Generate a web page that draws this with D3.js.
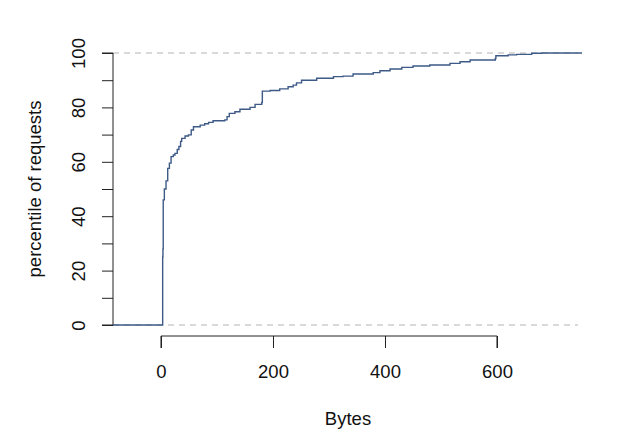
<!DOCTYPE html>
<html>
<head>
<meta charset="utf-8">
<script src="https://cdn.jsdelivr.net/npm/d3@7"></script>
<style>
  html, body { margin: 0; padding: 0; background: #fff; }
  text { font-family: "Liberation Sans", Arial, Helvetica, sans-serif; }
</style>
</head>
<body>
<svg id="chart" width="630" height="442"></svg>
<script>
// ECDF knots: bytes and cumulative percentile of requests
const bytes = [3, 3.5, 4, 6, 9, 12, 15, 18, 22, 25, 29, 32, 35, 37, 43, 49, 54, 58, 70, 78, 85, 93,
  114, 118, 122, 132, 141, 159, 168, 180, 181, 195, 212, 227, 236, 242, 251, 278, 308, 325, 343,
  379, 391, 409, 430, 450, 480, 516, 534, 552, 597, 598, 620, 635, 662, 680];
const percentile = [25, 28, 46, 50, 53, 57.6, 59.5, 61.9, 62.5, 63.1, 64.5, 65.6, 67.5, 68.6, 69.5, 69.9,
  71.7, 72.9, 73.5, 74, 74.5, 75.1, 75.4, 76.6, 77.8, 78.4, 79.3, 80, 81.1, 81.8, 86, 86.2, 86.8,
  87.6, 88.2, 89, 90, 90.7, 91.3, 91.5, 92.3, 92.8, 93.5, 94.1, 94.7, 95.2, 95.6, 96.2, 96.8, 97.4,
  98, 99, 99.3, 99.5, 99.9, 100];
const xTicks = [0, 200, 400, 600];
const yTicks = [0, 10, 20, 30, 40, 50, 60, 70, 80, 90, 100];
const yLabels = [0, 20, 40, 60, 80, 100];
const refLines = [0, 100];
const xTitle = "Bytes";
const yTitle = "percentile of requests";

const svg = d3.select("#chart");
const x = d3.scaleLinear().domain([-85.7, 751.8]).range([113, 582]);
const y = d3.scaleLinear().domain([0, 100]).range([325, 53]);
const plotBottom = 336;

// Reference dashed lines
svg.selectAll("line.ref").data(refLines).enter().append("line")
  .attr("class", "ref")
  .attr("x1", x.range()[0]).attr("x2", 578)
  .attr("y1", d => y(d)).attr("y2", d => y(d))
  .attr("stroke", "#b3b3b3").attr("stroke-width", 1.2)
  .attr("stroke-dasharray", "6,5");

// ECDF step line
const pts = [[x.domain()[0], 0]].concat(bytes.map((b, i) => [b, percentile[i]]))
  .concat([[x.domain()[1], percentile[percentile.length - 1]]]);
const line = d3.line().x(d => x(d[0])).y(d => y(d[1])).curve(d3.curveStepAfter);
svg.append("path").datum(pts)
  .attr("d", line)
  .attr("fill", "none")
  .attr("stroke", "#3d5a86")
  .attr("stroke-width", 1.4);

// Y axis
const yAxis = d3.axisLeft(y).tickValues(yTicks).tickSize(11)
  .tickFormat(d => yLabels.includes(d) ? d : "");
const gy = svg.append("g").attr("transform", `translate(${x.range()[0]},0)`).call(yAxis);
gy.select(".domain").attr("d", `M-11,${y(0)}H0V${y(100)}H-11`).attr("stroke", "#222");
gy.selectAll(".tick line").attr("stroke", "#222");
gy.selectAll(".tick text")
  .attr("font-size", 18.5).attr("fill", "#111")
  .attr("x", null).attr("dy", null)
  .attr("text-anchor", "middle")
  .attr("transform", "translate(-34,0) rotate(-90)")
  .attr("dy", "0.35em");

// X axis
const xAxis = d3.axisBottom(x).tickValues(xTicks).tickSize(12).tickFormat(d3.format("d"));
const gx = svg.append("g").attr("transform", `translate(0,${plotBottom})`).call(xAxis);
gx.select(".domain").attr("d", `M${x(0)},12V0H${x(600)}V12`).attr("stroke", "#222");
gx.selectAll(".tick line").attr("stroke", "#222");
gx.selectAll(".tick text").attr("font-size", 18.5).attr("fill", "#111").attr("y", 29).attr("dy", "0.71em");

// Titles
svg.append("text").attr("x", 348).attr("y", 425).attr("text-anchor", "middle")
  .attr("font-size", 18.5).attr("fill", "#111").text(xTitle);
svg.append("text").attr("transform", "translate(41,189) rotate(-90)")
  .attr("text-anchor", "middle").attr("font-size", 18.5).attr("fill", "#111").text(yTitle);
</script>
</body>
</html>
